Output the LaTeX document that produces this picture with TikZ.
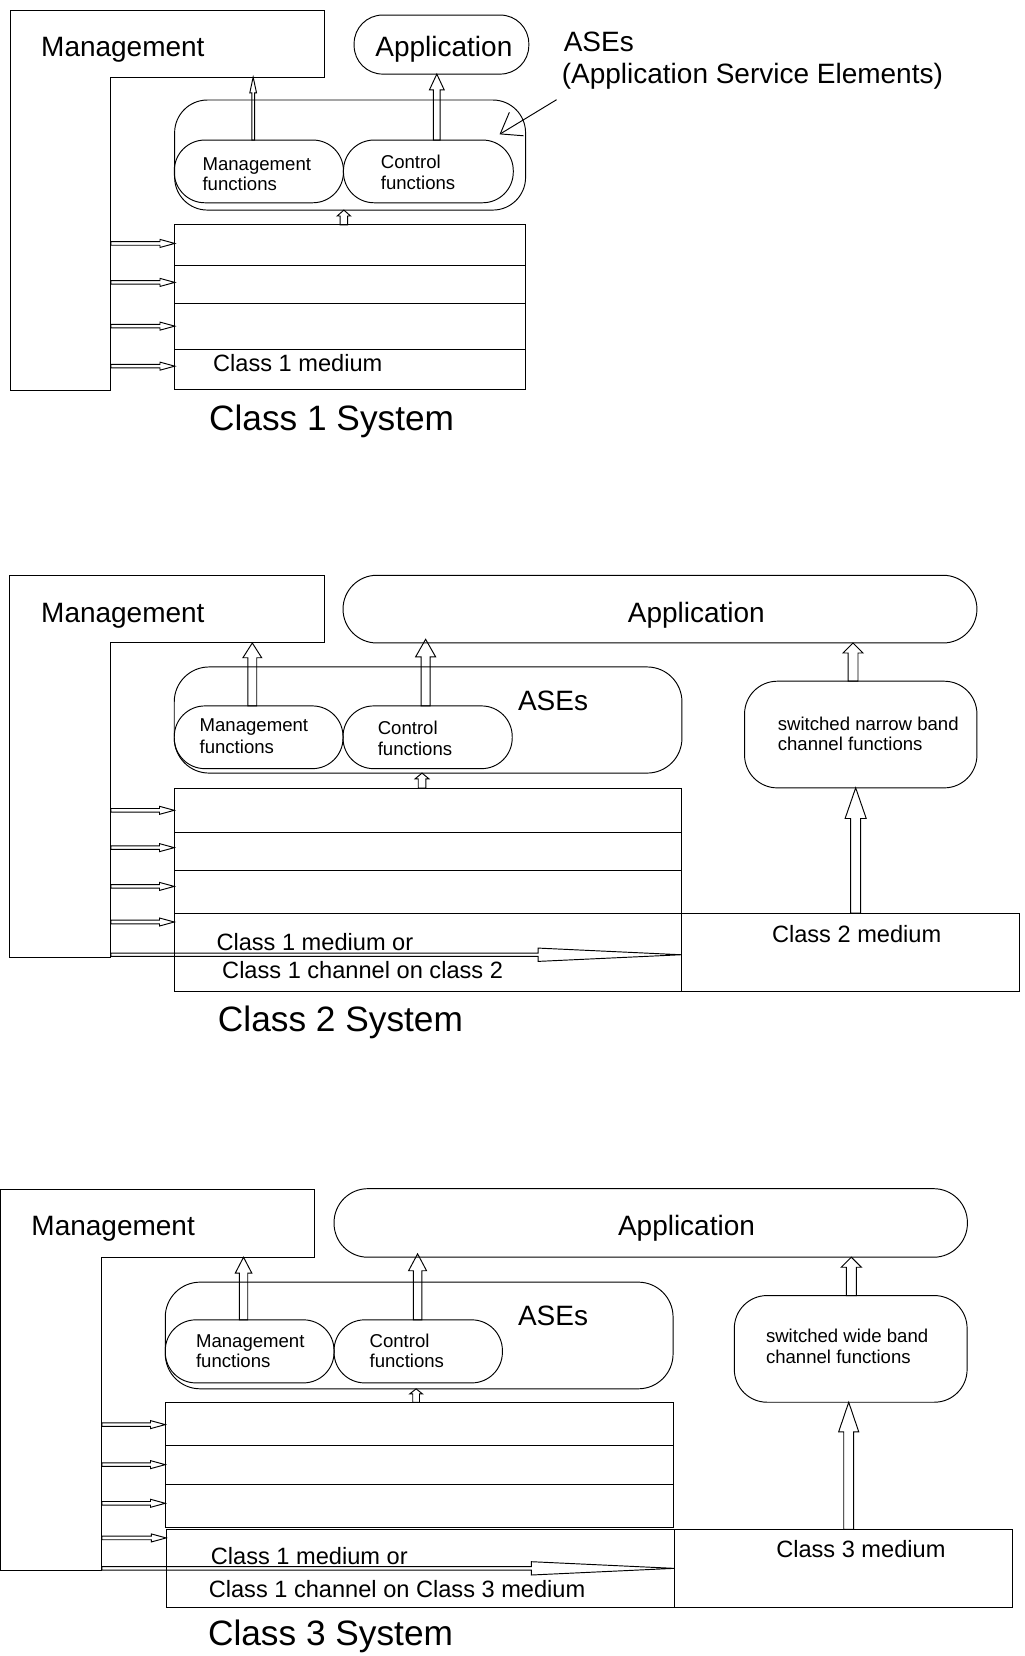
\documentclass[tikz,border=0pt]{standalone}
\usepackage{fontspec}
\setmainfont{Liberation Sans}
\usetikzlibrary{calc,arrows.meta}
\begin{document}
\begin{tikzpicture}[x=1pt,y=-1pt,line width=0.9pt,
  every node/.style={inner sep=0pt,outer sep=0pt},
  big/.style={font=\fontsize{26.5}{30}\selectfont,anchor=base west},
  med/.style={font=\fontsize{22.35}{26}\selectfont,anchor=base west},
  sml/.style={font=\fontsize{17.6}{20}\selectfont,anchor=base west},
  ttl/.style={font=\fontsize{33.4}{38}\selectfont,anchor=base west},
  box/.style={draw},
  row/.style={draw,anchor=north west},
  uparrow/.style n args={3}{draw,to path={let \p1=(\tikztostart),\p2=(\tikztotarget) in
     (\x1-#1pt,\y1) -- (\x1-#1pt,\y2-#3pt) -- (\x1-#2pt,\y2-#3pt) -- (\x1,\y2) --
     (\x1+#2pt,\y2-#3pt) -- (\x1+#1pt,\y2-#3pt) -- (\x1+#1pt,\y1) -- cycle}},
  rarrow/.style n args={3}{draw,to path={let \p1=(\tikztostart),\p2=(\tikztotarget) in
     (\x1,\y1+#1pt) -- (\x2-#3pt,\y1+#1pt) -- (\x2-#3pt,\y1+#2pt) -- (\x2,\y1) --
     (\x2-#3pt,\y1-#2pt) -- (\x2-#3pt,\y1-#1pt) -- (\x1,\y1-#1pt) -- cycle}},
  pointer/.style={-{Straight Barb[length=18pt,width=26pt]}}
]
\fill[white] (0,0) rectangle (970,1568);
\useasboundingbox (0,0) rectangle (970,1568);

% ================= Panel 1 =================
\draw (10,10) -- (307.3,10) -- (307.3,73) -- (105,73) -- (105,370) -- (10,370) -- cycle;
\coordinate (m1in) at (105,73);
\node[box,minimum width=165.4pt,minimum height=55.9pt,rounded corners=27pt] (app1) at (418,42.2) {};
\node[box,minimum width=332.3pt,minimum height=104.2pt,rounded corners=31pt] (ase1) at (331.5,146.8) {};
\node[box,minimum width=160.2pt,minimum height=59.4pt,rounded corners=29pt] (mf1) at (245.1,162.3) {};
\node[box,minimum width=160.8pt,minimum height=59.4pt,rounded corners=29pt] (cf1) at (405.6,162.3) {};
\node[row,minimum width=332.2pt,minimum height=38pt] (r11) at (165.5,213) {};
\node[row,minimum width=332.2pt,minimum height=36pt] (r12) at (165.5,251) {};
\node[row,minimum width=332.2pt,minimum height=44pt] (r13) at (165.5,287) {};
\node[row,minimum width=332.2pt,minimum height=38pt] (r14) at (165.5,331) {};

\draw[uparrow={1.3}{3.2}{15}] ([xshift=-5.4pt]mf1.north) to (mf1.north |- m1in);
\draw[uparrow={3.2}{7}{15}] ([xshift=8pt]cf1.north) to (app1.south);
\draw[uparrow={3.5}{6.3}{5.6}] ([xshift=-6pt]r11.north) to (ase1.south);
\coordinate (t11) at ([yshift=1.5pt]r11.west);
\coordinate (t12) at ([yshift=1.6pt]r12.west);
\coordinate (t13) at ([yshift=0.2pt]r13.west);
\coordinate (t14) at ([yshift=3.3pt]r14.west);
\foreach \t in {t11,t12,t13,t14}{\draw[rarrow={1.7}{3.8}{14}] (m1in |- \t) to (\t);}
\coordinate (p1s) at (527,94.4);
\coordinate (p1t) at (473,127.2);
\draw[pointer] (p1s) -- (p1t);

\node[big] (mt1) at (39,53.7) {Management};
\node[big,anchor=base] (at1) at (420.3,53.7) {Application};
\node[big] (asel1) at (533.8,49.1) {ASEs};
\node[big] (asel1b) at (532,79.2) {(Application Service Elements)};
\node[sml] (mft1) at (191.8,161) {Management};
\node[sml] (mft1b) at (191.8,180) {functions};
\node[sml] (cft1) at (360.6,159.5) {Control};
\node[sml] (cft1b) at (360.6,179.5) {functions};
\node[med] (cm1) at (201.8,352) {Class 1 medium};
\node[ttl] (sys1) at (198,408) {Class 1 System};

% ================= Panel 2 =================
\draw (9.3,544.7) -- (307.4,544.7) -- (307.4,608.8) -- (104.9,608.8) -- (104.9,906.2) -- (9.3,906.2) -- cycle;
\coordinate (m2in) at (104.9,608.8);
\node[box,minimum width=600.2pt,minimum height=64.1pt,rounded corners=32pt] (app2) at (624.9,576.75) {};
\node[box,minimum width=480.7pt,minimum height=100.5pt,rounded corners=33pt] (ase2) at (405.35,681.75) {};
\node[box,minimum width=159.8pt,minimum height=59.4pt,rounded corners=29pt] (mf2) at (244.9,698.1) {};
\node[box,minimum width=160.2pt,minimum height=59.4pt,rounded corners=29pt] (cf2) at (404.9,698.1) {};
\node[box,minimum width=220pt,minimum height=101pt,rounded corners=31pt] (sw2) at (815,695.5) {};
\node[row,minimum width=480.7pt,minimum height=41.7pt] (r21) at (165,746.1) {};
\node[row,minimum width=480.7pt,minimum height=36.3pt] (r22) at (165,787.8) {};
\node[row,minimum width=480.7pt,minimum height=40.4pt] (r23) at (165,824.1) {};
\node[row,minimum width=479.9pt,minimum height=74.2pt] (r24) at (165,864.5) {};
\node[row,minimum width=320.1pt,minimum height=74.2pt] (rb2) at (644.9,864.5) {};

\draw[uparrow={4.2}{8.9}{14}] ([xshift=-6pt]mf2.north) to (mf2.north |- m2in);
\draw[uparrow={4.2}{9.5}{16.7}] ([xshift=-1.9pt]cf2.north) to ([yshift=3.5pt]app2.south);
\draw[uparrow={3.6}{6.5}{5.4}] ([xshift=-5.75pt]r21.north) to (ase2.south);
\draw[uparrow={4.7}{9.5}{9.5}] ([xshift=-7.3pt]sw2.north) to (sw2.north |- app2.south);
\draw[uparrow={4.7}{10}{29}] ([xshift=5.25pt]rb2.north) to (sw2.south);
\coordinate (t21) at ([yshift=-0.3pt]r21.west);
\coordinate (t22) at ([yshift=3.35pt]r22.west);
\coordinate (t23) at ([yshift=5pt]r23.west);
\coordinate (t24) at ([yshift=-8.5pt]r24.north west);
\foreach \t in {t21,t22,t23,t24}{\draw[rarrow={1.7}{3.8}{14}] (m2in |- \t) to (\t);}
\coordinate (t25) at ([yshift=-2.4pt]r24.east);
\draw[rarrow={1.6}{6.3}{135.3}] (m2in |- t25) to (t25);

\node[big] (mt2) at (39,589.5) {Management};
\node[big,anchor=base] (at2) at (659.3,589.5) {Application};
\node[big] (asel2) at (490.5,673.2) {ASEs};
\node[sml] (mft2) at (189,693) {Management};
\node[sml] (mft2b) at (189,713.6) {functions};
\node[sml] (cft2) at (357.7,695.3) {Control};
\node[sml] (cft2b) at (357.7,715.2) {functions};
\node[sml] (swt2) at (736.5,691.5) {switched narrow band};
\node[sml] (swt2b) at (736.5,711) {channel functions};
\node[med] (c1m2) at (205,900) {Class 1 medium or};
\node[med] (c1c2) at (210.4,926.7) {Class 1 channel on class 2};
\node[med] (c2m) at (731,892) {Class 2 medium};
\node[ttl] (sys2) at (206.4,977) {Class 2 System};

% ================= Panel 3 =================
\draw (0.8,1126.6) -- (298.1,1126.6) -- (298.1,1190.4) -- (96.4,1190.4) -- (96.4,1487.2) -- (0.8,1487.2) -- cycle;
\coordinate (m3in) at (96.4,1190.4);
\node[box,minimum width=599.7pt,minimum height=64.9pt,rounded corners=32pt] (app3) at (616.15,1157.95) {};
\node[box,minimum width=480.8pt,minimum height=101pt,rounded corners=33pt] (ase3) at (396.9,1264.5) {};
\node[box,minimum width=159.8pt,minimum height=59.7pt,rounded corners=29pt] (mf3) at (236.4,1279.55) {};
\node[box,minimum width=159.4pt,minimum height=59.7pt,rounded corners=29pt] (cf3) at (396,1279.55) {};
\node[box,minimum width=220.4pt,minimum height=101pt,rounded corners=31pt] (sw3) at (805.5,1277.2) {};
\node[row,minimum width=480.8pt,minimum height=41.1pt] (r31) at (156.5,1327.7) {};
\node[row,minimum width=480.8pt,minimum height=36.9pt] (r32) at (156.5,1368.8) {};
\node[row,minimum width=480.8pt,minimum height=41pt] (r33) at (156.5,1405.7) {};
\node[row,minimum width=481.2pt,minimum height=74pt] (r34) at (157.3,1448) {};
\node[row,minimum width=320.1pt,minimum height=74pt] (rb3) at (638.5,1448) {};

\draw[uparrow={4}{7.8}{15}] ([xshift=-5.8pt]mf3.north) to (mf3.north |- m3in);
\draw[uparrow={4}{8.5}{16}] ([xshift=-0.6pt]cf3.north) to ([yshift=3.2pt]app3.south);
\draw[uparrow={3.2}{6}{4.8}] ([xshift=-2.9pt]r31.north) to (ase3.south);
\draw[uparrow={4.7}{9.5}{9.5}] ([xshift=0.6pt]sw3.north) to (sw3.north |- app3.south);
\draw[uparrow={4.7}{9.5}{28}] ([xshift=5.05pt]rb3.north) to (sw3.south);
\coordinate (t31) at ([yshift=-0.65pt]r31.west);
\coordinate (t32) at ([yshift=0.45pt]r32.west);
\coordinate (t33) at ([yshift=2.8pt]r33.west);
\coordinate (t34) at ([yshift=-8.2pt]r34.north west);
\foreach \t in {t31,t32,t33,t34}{\draw[rarrow={1.7}{3.8}{14}] (m3in |- \t) to (\t);}
\coordinate (t35) at (r34.east);
\draw[rarrow={1.6}{6.3}{135.3}] (m3in |- t35) to (t35);

\node[big] (mt3) at (29.8,1169.9) {Management};
\node[big,anchor=base] (at3) at (650,1170) {Application};
\node[big] (asel3) at (490.5,1255.1) {ASEs};
\node[sml] (mft3) at (185.6,1275.6) {Management};
\node[sml] (mft3b) at (185.6,1294.6) {functions};
\node[sml] (cft3) at (350,1275.6) {Control};
\node[sml] (cft3b) at (350,1294.6) {functions};
\node[sml] (swt3) at (725.3,1270.9) {switched wide band};
\node[sml] (swt3b) at (725.3,1291.4) {channel functions};
\node[med] (c1m3) at (199.7,1480.9) {Class 1 medium or};
\node[med] (c1c3) at (197.7,1512.4) {Class 1 channel on Class 3 medium};
\node[med] (c3m) at (735,1474.5) {Class 3 medium};
\node[ttl] (sys3) at (197,1558.2) {Class 3 System};
\end{tikzpicture}
\end{document}
